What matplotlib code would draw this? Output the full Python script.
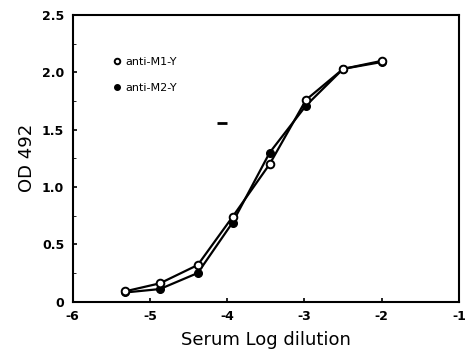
import matplotlib
matplotlib.use("Agg")
import matplotlib.pyplot as plt

# serum log dilution
dilution = [-5.32, -4.87, -4.38, -3.93, -3.45, -2.98, -2.5, -2.0]
od_m1 = [0.09, 0.16, 0.32, 0.74, 1.20, 1.76, 2.03, 2.10]
od_m2 = [0.08, 0.11, 0.25, 0.69, 1.30, 1.71, 2.03, 2.09]
labels = ["anti-M1-Y", "anti-M2-Y"]
xticks = [-6, -5, -4, -3, -2, -1]
yticks = [0, 0.5, 1.0, 1.5, 2.0, 2.5]
yticklabels = ["0", "0.5", "1.0", "1.5", "2.0", "2.5"]
# stray dash in the scan
stray_x, stray_y = [-4.07], [1.555]

fig = plt.figure(figsize=(4.68, 3.57), dpi=100)
ax = fig.add_axes([0.155, 0.155, 0.826, 0.803])

ax.plot(dilution, od_m2, "-o", color="black", mfc="black", ms=5.5, lw=1.6, label=labels[1])
ax.plot(dilution, od_m1, "-o", color="black", mfc="white", mew=1.4, ms=5.5, lw=1.6, label=labels[0])
ax.plot(stray_x, stray_y, marker="_", color="black", ms=7, mew=2, ls="none")

ax.set_xlim(-6, -1)
ax.set_ylim(0, 2.5)
ax.set_xticks(xticks)
ax.set_xticklabels([str(t) for t in xticks], fontweight="bold", fontsize=9)
ax.set_yticks(yticks)
ax.set_yticklabels(yticklabels, fontweight="bold", fontsize=9)
ax.set_yticks([0.25, 0.75, 1.25, 1.75, 2.25], minor=True)
ax.tick_params(direction="in", length=3, width=1.2, pad=6)
ax.tick_params(which="minor", direction="in", length=2)
for s in ax.spines.values():
    s.set_linewidth(1.5)

ax.set_xlabel("Serum Log dilution", fontsize=13, labelpad=6)
ax.set_ylabel("OD 492", fontsize=13, labelpad=4)

h, l = ax.get_legend_handles_labels()
leg = ax.legend([h[1], h[0]], [l[1], l[0]], loc="upper left", bbox_to_anchor=(0.09, 0.89),
                frameon=False, handlelength=0, handletextpad=0.7, labelspacing=1.5,
                prop={"size": 8})
for lh in leg.legend_handles:
    lh.set_markersize(4)

fig.savefig("out.png", dpi=100)
